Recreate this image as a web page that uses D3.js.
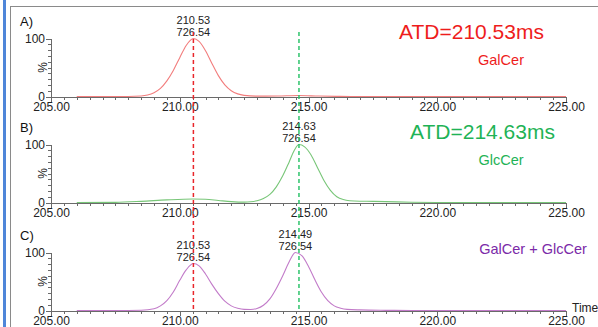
<!DOCTYPE html>
<html>
<head>
<meta charset="utf-8">
<script src="https://cdn.jsdelivr.net/npm/d3@7"></script>
<style>
  body { margin: 0; background: #fff; }
  svg { display: block; font-family: "Liberation Sans", Arial, sans-serif; }
  .axis path, .axis line { stroke: #6a6a6a; shape-rendering: crispEdges; }
  .axis text { fill: #222; font-size: 12px; font-family: "Liberation Sans", Arial, sans-serif; }
</style>
</head>
<body>
<div id="chart"></div>
<script>

// Traces: [arrival time (ms), relative intensity (%)].
const galcerTrace = [
    [206.0, 0], [207.0, 0], [208.0, 0], [208.5, 0.8], [208.75, 2.5], [209.0, 6.5],
    [209.25, 14], [209.5, 27], [209.75, 45], [210.0, 67], [210.25, 88], [210.53, 100],
    [210.75, 95], [211.0, 79], [211.25, 57], [211.5, 36], [211.75, 20], [212.0, 10],
    [212.25, 4.5], [212.5, 2], [213.0, 0.6], [213.8, 0.8], [214.6, 1.6], [215.4, 0.8],
    [216.2, 0.2], [217.0, 0], [225.0, 0]
];
const glccerTrace = [
    [206.0, 0], [207.5, 0.3], [208.5, 2], [209.5, 4.5], [210.5, 6], [211.0, 5.5],
    [211.5, 3.5], [212.0, 1.5], [212.5, 0.6], [212.75, 1.2], [213.0, 3], [213.25, 7],
    [213.5, 14], [213.75, 27], [214.0, 46], [214.25, 70], [214.45, 90], [214.63, 100],
    [214.85, 96], [215.1, 82], [215.35, 60], [215.6, 38], [215.85, 21], [216.1, 10],
    [216.35, 5], [216.6, 3], [217.0, 2.2], [217.5, 2], [218.0, 1.5], [219.0, 0.4],
    [220.0, 0], [225.0, 0]
];
const mixTrace = [
    [206.0, 0], [207.5, 0], [208.5, 0.5], [209.0, 3], [209.25, 8], [209.5, 17],
    [209.75, 32], [210.0, 52], [210.25, 70], [210.53, 81], [210.75, 77], [211.0, 63],
    [211.25, 45], [211.5, 29], [211.75, 16], [212.0, 8], [212.25, 4], [212.5, 2],
    [212.75, 1.8], [213.0, 3.5], [213.25, 9], [213.5, 20], [213.75, 38], [214.0, 60],
    [214.25, 84], [214.49, 100], [214.75, 94], [215.0, 76], [215.25, 53], [215.5, 32],
    [215.75, 17], [216.0, 8], [216.25, 4], [216.5, 2], [217.0, 1], [218.0, 0.3],
    [219.0, 0], [225.0, 0]
];

// Peak annotations: [time, intensity, m/z].
const galcerPeaks = [[210.53, 100, "726.54"]];
const glccerPeaks = [[214.63, 100, "726.54"]];
const mixPeaks    = [[210.53, 81, "726.54"], [214.49, 100, "726.54"]];

const panelLetters  = ["A)", "B)", "C)"];
const compoundNames = ["GalCer", "GlcCer", "GalCer + GlcCer"];
const atdTexts      = ["ATD=210.53ms", "ATD=214.63ms", null];
const atdTimes      = [210.53, 214.63];

const timeDomain  = [205, 225];
const majorTimes  = [205, 210, 215, 220, 225];
const minorTimes  = d3.range(205, 225.01, 0.5);
const yLabelTicks = [0, 100];
const yMinorTicks = d3.range(0, 101, 10);

// Layout and styling.
const W = 598, H = 327;
const panelTops = [38.5, 144.5, 252.5];
const panelHeight = 58;
const traceColors = ["#f27d7d", "#78c678", "#c27bc9"];
const labelColors = ["#ee1c1c", "#1fb356", "#7b2aa8"];
const atdPos  = [[399, 0.5], [410, -5.5]];
const namePos = [[501, 26.5], [501, 20.5], [533, 1.5]];
const dashColors = ["#e8262b", "#2fc46b"];

const traces = [galcerTrace, glccerTrace, mixTrace];
const peaks  = [galcerPeaks, glccerPeaks, mixPeaks];

const svg = d3.select("#chart").append("svg")
    .attr("width", W)
    .attr("height", H);

// Frame of the screenshot.
svg.append("rect").attr("x", 3).attr("y", 0).attr("width", 3).attr("height", H)
    .attr("fill", "#4f86d9");
svg.append("line").attr("x1", 10).attr("x2", W).attr("y1", 6.5).attr("y2", 6.5)
    .attr("stroke", "#8a8a8a");
svg.append("line").attr("x1", 10.5).attr("x2", 10.5).attr("y1", 6).attr("y2", H)
    .attr("stroke", "#8a8a8a");

const x = d3.scaleLinear().domain(timeDomain).range([51, 566]);

function drawPanel(i) {
    let top = panelTops[i];
    let y = d3.scaleLinear().domain([0, 100]).range([top + panelHeight, top]);

    // X axis: minor and major ticks
    svg.append("g")
        .attr("class", "axis")
        .attr("transform", "translate(0," + y(0) + ")")
        .call(d3.axisBottom(x).tickValues(minorTimes).tickSize(3).tickSizeOuter(0).tickFormat(""));
    svg.append("g")
        .attr("class", "axis")
        .attr("transform", "translate(0," + y(0) + ")")
        .call(d3.axisBottom(x).tickValues(majorTimes).tickSize(5).tickSizeOuter(0)
            .tickPadding(1).tickFormat(d3.format(".2f")));

    // Y axis
    svg.append("g")
        .attr("class", "axis")
        .attr("transform", "translate(" + x(205) + ",0)")
        .call(d3.axisLeft(y).tickValues(yMinorTicks).tickSize(3).tickSizeOuter(0).tickFormat(""));
    svg.append("g")
        .attr("class", "axis")
        .attr("transform", "translate(" + x(205) + ",0)")
        .call(d3.axisLeft(y).tickValues(yLabelTicks).tickSize(5).tickSizeOuter(0).tickPadding(1));

    svg.append("text")
        .attr("transform", "translate(43," + y(50) + ") rotate(-90)")
        .attr("text-anchor", "middle")
        .attr("dy", "0.35em")
        .attr("font-size", 12)
        .attr("fill", "#222")
        .text("%");

    // Trace
    let line = d3.line()
        .x(d => x(d[0]))
        .y(d => y(d[1]))
        .curve(d3.curveMonotoneX);
    svg.append("path")
        .datum(traces[i])
        .attr("fill", "none")
        .attr("stroke", traceColors[i])
        .attr("stroke-width", 1.1)
        .attr("d", line);

    // Peak labels
    peaks[i].forEach(p => {
        svg.append("text")
            .attr("x", x(p[0])).attr("y", y(p[1]) - 15)
            .attr("text-anchor", "middle").attr("font-size", 11).attr("fill", "#222")
            .text(p[0].toFixed(2));
        svg.append("text")
            .attr("x", x(p[0])).attr("y", y(p[1]) - 3)
            .attr("text-anchor", "middle").attr("font-size", 11).attr("fill", "#222")
            .text(p[2]);
    });

    svg.append("text")
        .attr("x", 20).attr("y", top - 13)
        .attr("font-size", 13).attr("fill", "#111")
        .text(panelLetters[i]);

    if (atdTexts[i]) {
        svg.append("text")
            .attr("x", atdPos[i][0]).attr("y", top + atdPos[i][1])
            .attr("font-size", 21).attr("fill", labelColors[i])
            .text(atdTexts[i]);
    }

    svg.append("text")
        .attr("x", namePos[i][0]).attr("y", top + namePos[i][1])
        .attr("text-anchor", "middle")
        .attr("font-size", 14.5).attr("fill", labelColors[i])
        .text(compoundNames[i]);
}

panelLetters.forEach((d, i) => drawPanel(i));

svg.append("text")
    .attr("x", 572).attr("y", 312)
    .attr("font-size", 12).attr("fill", "#222")
    .text("Time");

// Dashed ATD markers running through all panels
svg.selectAll("line.atd")
    .data(atdTimes)
    .enter().append("line")
    .attr("class", "atd")
    .attr("x1", d => x(d)).attr("x2", d => x(d))
    .attr("y1", 32).attr("y2", 312)
    .attr("stroke", (d, i) => dashColors[i])
    .attr("stroke-width", 1.5)
    .attr("stroke-dasharray", "4,3");

</script>
</body>
</html>
